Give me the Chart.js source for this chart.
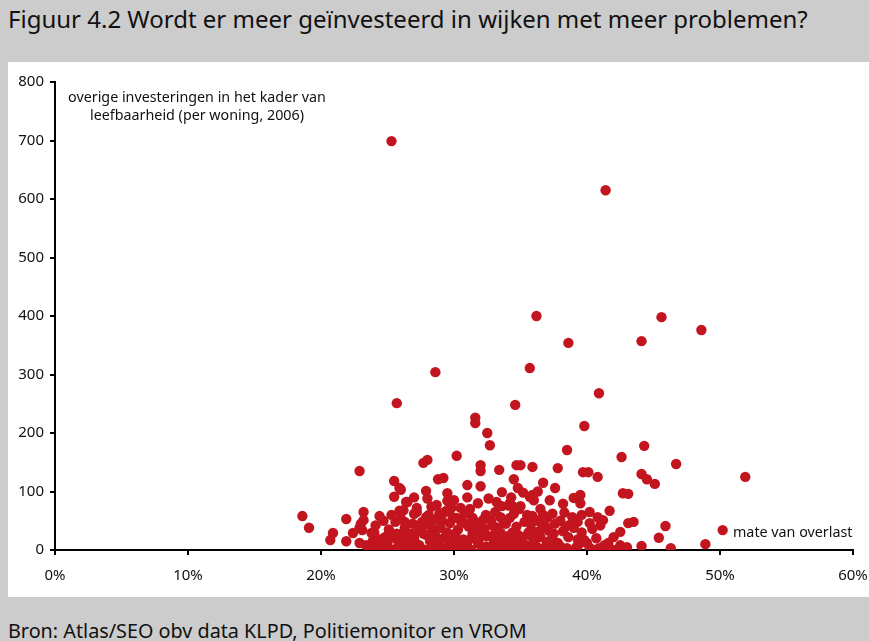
<!DOCTYPE html>
<html>
<head>
<meta charset="utf-8">
<script src="https://cdn.jsdelivr.net/npm/chart.js@4"></script>
<style>
  html, body { margin: 0; padding: 0; }
  body { width: 869px; height: 641px; background: #cccccc; position: relative; overflow: hidden;
         font-family: "Noto Sans", "Open Sans", sans-serif; }
  #title { position: absolute; left: 8px; top: 2px; font-size: 24px; color: #111; white-space: nowrap; }
  #panel { position: absolute; left: 8px; top: 62px; width: 861px; height: 535px; background: #fff; }
  #source { position: absolute; left: 8px; top: 617px; font-size: 19.8px; color: #111; white-space: nowrap; }
</style>
</head>
<body>
<div id="title">Figuur 4.2 Wordt er meer geïnvesteerd in wijken met meer problemen?</div>
<div id="panel"><canvas id="chart" width="861" height="535"></canvas></div>
<div id="source">Bron: Atlas/SEO obv data KLPD, Politiemonitor en VROM</div>
<script>
// mate van overlast (%) per wijk
const overlast = [
  25.3, 41.4, 36.2, 45.6, 48.6, 38.6, 44.1, 35.7, 28.6, 40.9, 25.7, 34.6, 31.6, 31.6, 32.5, 39.8,
  32.7, 38.5, 44.3, 30.2, 42.6, 46.7, 28.0, 27.7, 22.9, 32.0, 32.0, 33.4, 34.7, 35.0, 35.9, 37.8,
  39.7, 40.1, 40.8, 44.1, 44.5, 45.1, 51.9, 25.5, 28.8, 29.2, 31.0, 32.0, 34.5, 36.7, 26.0, 25.9,
  27.9, 29.5, 33.6, 34.8, 37.6, 42.7, 43.1, 25.5, 26.4, 35.7, 35.9, 39.0, 39.5, 39.5, 38.2, 34.2,
  34.1, 34.4, 35.0, 26.5, 27.2, 28.3, 28.7, 27.2, 26.2, 25.9, 29.3, 29.5, 29.9, 31.4, 33.5, 32.0,
  37.4, 40.2, 41.7, 40.8, 41.2, 39.1, 39.3, 40.2, 38.2, 38.7, 42.5, 42.0, 43.1, 43.5, 45.9, 45.4,
  43.0, 44.1, 46.3, 48.9, 50.2, 39.8, 40.5, 42.0, 37.4, 37.0, 38.5, 39.2, 35.5, 27.9, 18.6, 19.1,
  20.9, 20.7, 21.9, 21.9, 22.4, 23.2, 23.2, 24.7, 25.6, 26.3, 25.2, 23.8, 23.1, 22.9, 23.5, 24.2,
  25.9, 25.0, 22.9, 24.0, 23.0,
  23.8, 24.3, 24.9, 25.4, 26.0, 26.6, 27.0, 27.4, 27.8, 28.2, 28.5, 28.9, 29.3, 29.6, 30.0, 30.3,
  30.7, 31.0, 31.4, 31.8, 32.1, 32.5, 32.9, 33.3, 33.6, 34.0, 34.4, 34.8, 35.2, 35.6, 36.0, 36.4,
  36.8, 24.5, 25.1, 25.7, 26.3, 26.9, 27.5, 28.0, 28.6, 29.0, 29.7, 30.1, 30.5, 31.1, 31.6, 32.3,
  32.8, 33.0, 33.9, 34.2, 34.7, 35.3, 35.8, 36.3, 36.9, 37.5, 37.8, 38.2, 36.5, 35.0, 33.8, 32.6,
  31.3, 30.4, 29.1, 28.4, 27.2, 26.2, 24.7, 27.6, 28.9, 29.8, 30.8, 31.2, 32.4, 33.1, 33.6, 34.9,
  35.9, 36.6, 37.1, 38.0, 38.6, 39.0, 39.6, 40.0, 40.7, 41.3, 40.4, 41.0, 36.0, 36.5, 37.0, 30.0,
  31.0, 31.8, 32.6, 33.2, 30.5, 29.5, 28.0, 27.0, 34.3, 35.2, 36.3, 37.2, 38.3, 38.9, 39.6, 24.1,
  24.8, 26.7, 27.9, 29.5, 30.9, 32.0, 33.5, 34.6, 35.8, 36.2, 37.4, 31.7, 28.3, 26.0, 25.3, 24.4,
  30.7, 32.9, 34.5, 35.6, 29.9, 28.7, 27.3, 26.8, 25.6, 33.2, 34.1, 36.7, 37.6, 38.4, 39.3, 40.9,
  41.6, 42.5, 31.3, 32.2, 33.7, 30.2, 29.1, 28.1, 27.0,
  23.4, 24.0, 24.6, 25.2, 25.8, 26.4, 27.1, 27.7, 28.3, 28.9, 29.5, 30.1, 30.6, 31.2, 31.8, 32.4,
  33.0, 33.6, 34.2, 34.8, 35.4, 36.0, 36.6, 37.2, 23.9, 25.0, 26.1, 27.3, 28.6, 29.8, 31.0, 32.2,
  33.4, 34.6, 35.8, 37.0, 38.0, 39.4, 40.2, 41.5
];

// overige investeringen in het kader van leefbaarheid (per woning, 2006)
const investering = [
  699, 615, 400, 398, 376, 354, 357, 311, 304, 268, 251, 248, 226, 217, 200, 212,
  179, 171, 178, 161, 159, 147, 154, 149, 135, 145, 135, 137, 145, 145, 142, 140,
  133, 133, 125, 130, 121, 113, 125, 118, 121, 123, 111, 109, 121, 115, 103, 106,
  101, 97, 99, 106, 106, 97, 96, 91, 82, 91, 94, 89, 94, 80, 79, 80,
  76, 75, 75, 82, 72, 74, 77, 65, 68, 67, 65, 68, 56, 55, 56, 41,
  62, 65, 67, 56, 51, 51, 48, 46, 32, 43, 31, 22, 46, 48, 41, 21,
  5, 7, 3, 10, 34, 17, 0, 0, 17, 9, 3, 5, 60, 56, 58, 38,
  29, 17, 53, 15, 29, 65, 51, 50, 48, 48, 22, 29, 34, 12, 5, 5,
  5, 12, 38, 30, 45,
  0, 2, 8, 0, 14, 3, 20, 8, 0, 15, 30, 4, 22, 10, 0, 35,
  18, 5, 28, 12, 0, 24, 8, 38, 15, 2, 30, 10, 22, 0, 14, 32,
  4, 18, 35, 28, 38, 45, 32, 44, 52, 38, 46, 28, 50, 40, 48, 36,
  50, 26, 45, 55, 40, 48, 35, 50, 40, 28, 12, 0, 22, 5, 4, 2,
  0, 8, 0, 6, 2, 0, 0, 48, 62, 72, 62, 70, 60, 65, 75, 70,
  58, 45, 33, 50, 22, 38, 30, 12, 20, 8, 36, 42, 85, 70, 55, 85,
  90, 80, 88, 82, 72, 84, 88, 90, 90, 98, 100, 85, 64, 56, 60, 42,
  22, 10, 26, 30, 45, 22, 30, 18, 45, 6, 0, 34, 40, 54, 60, 58,
  2, 42, 62, 30, 15, 18, 40, 28, 20, 12, 24, 60, 45, 40, 18, 3,
  12, 8, 20, 52, 52, 55, 50, 60, 62,
  8, 26, 14, 30, 6, 22, 12, 28, 0, 16, 4, 24, 12, 0, 20, 6,
  18, 0, 14, 26, 8, 20, 0, 16, 16, 2, 28, 0, 24, 6, 14, 30,
  4, 0, 24, 12, 6, 10, 4, 2
];

const xTicks = [0, 10, 20, 30, 40, 50, 60];
const yTicks = [0, 100, 200, 300, 400, 500, 600, 700, 800];

const yTitle = ["overige investeringen in het kader van", "leefbaarheid (per woning, 2006)"];
const xTitle = "mate van overlast";

const points = overlast.map((x, i) => ({ x: x, y: investering[i] }));

// axis captions drawn inside the plot
const captions = {
  id: "captions",
  afterDraw(chart) {
    const ctx = chart.ctx;
    const area = chart.chartArea;
    ctx.save();
    ctx.fillStyle = "#111";
    ctx.font = '14.3px "Noto Sans", sans-serif';
    ctx.textAlign = "center";
    ctx.textBaseline = "middle";
    ctx.fillText(yTitle[0], area.left + 142, area.top + 16);
    ctx.fillText(yTitle[1], area.left + 142, area.top + 34);
    ctx.textAlign = "left";
    ctx.fillText(xTitle, area.left + 678, area.bottom - 17);
    ctx.restore();
  }
};

new Chart(document.getElementById("chart"), {
  type: "scatter",
  data: {
    datasets: [{
      data: points,
      backgroundColor: "#c3151f",
      borderWidth: 0,
      pointRadius: 5.2,
      pointHoverRadius: 5.2
    }]
  },
  options: {
    responsive: false,
    animation: false,
    layout: { padding: { left: 0, right: 16, top: 20, bottom: 0 } },
    plugins: { legend: { display: false }, tooltip: { enabled: false } },
    scales: {
      x: {
        type: "linear",
        min: 0,
        max: 60,
        afterBuildTicks: (s) => { s.ticks = xTicks.map(v => ({ value: v })); },
        afterFit: (s) => { s.height = 47; s.paddingLeft = 0; s.paddingRight = 0; },
        ticks: {
          color: "#111",
          padding: 12,
          font: { family: '"Noto Sans", sans-serif', size: 15 },
          callback: (v) => v + "%"
        },
        grid: { drawOnChartArea: false, drawTicks: true, tickLength: 5, color: "#000", lineWidth: 2 },
        border: { color: "#000", width: 2 }
      },
      y: {
        type: "linear",
        min: 0,
        max: 800,
        afterBuildTicks: (s) => { s.ticks = yTicks.map(v => ({ value: v })); },
        afterFit: (s) => { s.width = 47; s.paddingTop = 0; s.paddingBottom = 0; },
        ticks: {
          color: "#111",
          padding: 6,
          font: { family: '"Noto Sans", sans-serif', size: 15 }
        },
        grid: { drawOnChartArea: false, drawTicks: true, tickLength: 5, color: "#000", lineWidth: 2 },
        border: { color: "#000", width: 2 }
      }
    }
  },
  plugins: [captions]
});
</script>
</body>
</html>
